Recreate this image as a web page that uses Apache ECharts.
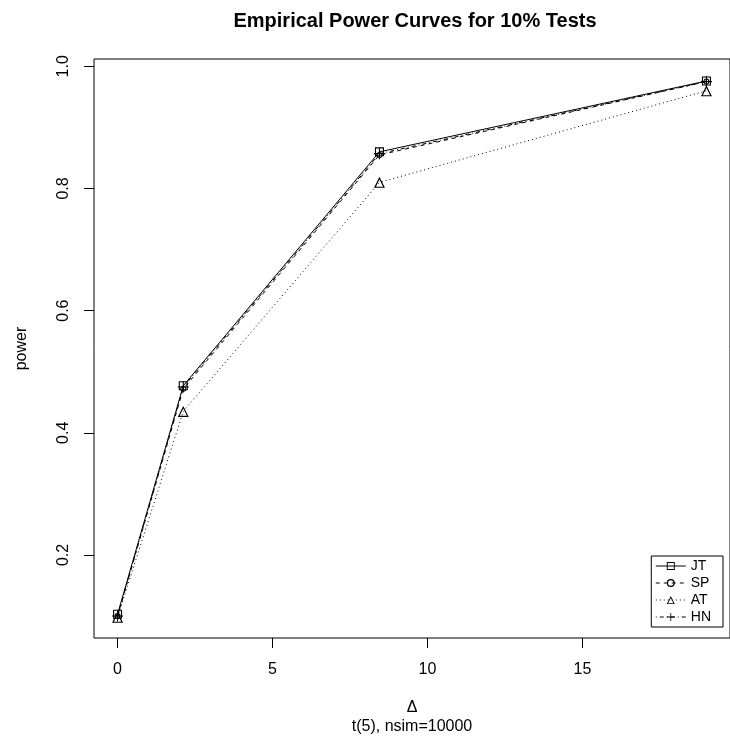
<!DOCTYPE html>
<html>
<head>
<meta charset="utf-8">
<script src="https://cdn.jsdelivr.net/npm/echarts@6/dist/echarts.min.js"></script>
<style>
  html, body { margin: 0; padding: 0; background: #fff; }
  #chart { width: 730px; height: 753px; }
</style>
</head>
<body>
<div id="chart"></div>
<script>
// data
const deltaValues = [0, 2.12, 8.45, 19];
const jtPower = [0.103, 0.477, 0.860, 0.976];
const spPower = [0.100, 0.472, 0.855, 0.975];
const atPower = [0.098, 0.435, 0.810, 0.960];
const hnPower = [0.100, 0.475, 0.857, 0.975];
const xTicks = [0, 5, 10, 15];
const yTicks = [0.2, 0.4, 0.6, 0.8, 1.0];

const FONT = "'Liberation Sans', Arial, sans-serif";

// thin hollow markers (R pch 0, 1, 2, 3)
const squareRing = 'path://M0,0H10V10H0Z M1.2,1.2V8.8H8.8V1.2Z';
const circleRing = 'path://M5,0A5,5,0,1,1,5,10A5,5,0,1,1,5,0Z M5,1.6A3.4,3.4,0,1,0,5,8.4A3.4,3.4,0,1,0,5,1.6Z';
const triangleRing = 'path://M5,0L10,10L0,10Z M5,2.4L1.7,9L8.3,9Z';
const plusPath = 'path://M0,4.5H4.5V0H5.5V4.5H10V5.5H5.5V10H4.5V5.5H0Z';

const toPairs = (vals) => deltaValues.map((x, i) => [x, vals[i]]);

function makeSeries(name, vals, symbol, size, dash) {
    return {
        name: name,
        type: 'line',
        xAxisIndex: 0,
        yAxisIndex: 0,
        data: toPairs(vals),
        symbol: symbol,
        symbolSize: size,
        symbolKeepAspect: true,
        showSymbol: true,
        lineStyle: { color: '#000', width: 1, type: dash },
        itemStyle: { color: '#000', borderWidth: 0 },
        emphasis: { disabled: true },
        animation: false
    };
}

const chart = echarts.init(document.getElementById('chart'));

const option = {
    backgroundColor: '#fff',
    textStyle: { fontFamily: FONT },
    graphic: [
        { type: 'text', x: 415, y: 21, style: { text: 'Empirical Power Curves for 10% Tests', font: 'bold 20px ' + FONT, fill: '#000', align: 'center', verticalAlign: 'middle' } }
    ],
    grid: { left: 94, top: 59, right: -7, bottom: 115, show: true, borderColor: '#000', borderWidth: 1, backgroundColor: 'transparent' },
    legend: {
        data: ['JT', 'SP', 'AT', 'HN'],
        orient: 'vertical',
        right: 7, bottom: 126,
        borderColor: '#000', borderWidth: 1, borderRadius: 0,
        padding: [3, 12, 3, 4],
        itemGap: 3, itemWidth: 30, itemHeight: 10,
        lineStyle: { width: 1 },
        itemStyle: { borderWidth: 0 },
        textStyle: { fontFamily: FONT, fontSize: 14, color: '#000' }
    },
    xAxis: [
        {
            type: 'value', min: -0.76, max: 19.76,
            name: 'Δ\nt(5), nsim=10000', nameLocation: 'middle', nameGap: 60,
            nameTextStyle: { fontFamily: FONT, fontSize: 16, color: '#000', lineHeight: 19 },
            axisLine: { show: false, onZero: false },
            splitLine: { show: false },
            axisTick: { show: true, customValues: xTicks, length: 10, lineStyle: { color: '#000' } },
            axisLabel: { customValues: xTicks, margin: 24, fontFamily: FONT, fontSize: 16, color: '#000' }
        },
        // helper axis: its zero sits on the left edge of the box, so the y axis is drawn there
        { type: 'value', min: 0, max: 1, show: false }
    ],
    yAxis: [
        {
            type: 'value', min: 0.064, max: 1.012,
            name: 'power', nameLocation: 'middle', nameGap: 64,
            nameTextStyle: { fontFamily: FONT, fontSize: 16, color: '#000' },
            axisLine: { show: false, onZero: true, onZeroAxisIndex: 1 },
            splitLine: { show: false },
            axisTick: { show: true, customValues: yTicks, length: 10, lineStyle: { color: '#000' } },
            axisLabel: { customValues: yTicks, rotate: 90, margin: 22, fontFamily: FONT, fontSize: 16, color: '#000', formatter: (v) => v.toFixed(1) }
        },
        // same scale again, only for the outward tick marks on the left edge
        {
            type: 'value', min: 0.064, max: 1.012, position: 'left', offset: 0,
            alignTicks: false,
            axisLine: { show: false, onZero: false },
            splitLine: { show: false },
            axisLabel: { show: false },
            axisTick: { show: true, inside: false, customValues: yTicks, length: 10, lineStyle: { color: '#000', width: 1 } }
        }
    ],
    series: [
        makeSeries('JT', jtPower, squareRing, 9, 'solid'),
        makeSeries('SP', spPower, circleRing, 6, [4, 4]),
        makeSeries('AT', atPower, triangleRing, 11, [1, 3]),
        makeSeries('HN', hnPower, plusPath, 11, [1, 3, 4, 3])
    ]
};
chart.setOption(option);
</script>
</body>
</html>
